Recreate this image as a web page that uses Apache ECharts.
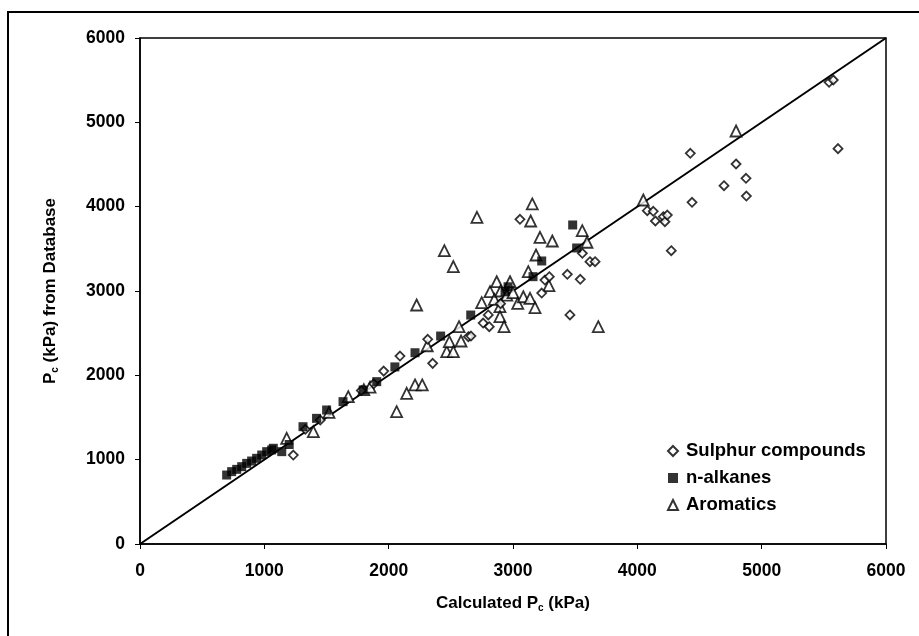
<!DOCTYPE html>
<html><head><meta charset="utf-8">
<script src="https://cdn.jsdelivr.net/npm/echarts@6/dist/echarts.min.js"></script>
<style>html,body{margin:0;padding:0;background:#fff}#c{width:919px;height:636px}</style>
</head><body><div id="c"></div>
<script>
var xTicks = [0, 1000, 2000, 3000, 4000, 5000, 6000];
var yTicks = [0, 1000, 2000, 3000, 4000, 5000, 6000];
var parityLine = [[0, 0], [6000, 6000]];
var sulphur = [
  [1233,1055],[1330,1360],[1450,1470],[1780,1820],[1880,1900],[1960,2050],[2091,2229],
  [2314,2427],[2354,2142],[2641,2458],[2662,2466],[2760,2620],[2801,2716],[2809,2577],
  [2900,2850],[3056,3850],[3231,2976],[3257,3130],[3292,3170],[3437,3198],[3458,2716],
  [3541,3139],[3558,3447],[3619,3348],[3660,3348],[4080,3952],[4128,3945],[4145,3830],
  [4209,3881],[4222,3822],[4241,3901],[4273,3478],[4440,4052],[4426,4633],[4697,4249],
  [4794,4506],[4874,4336],[4877,4126],[5542,5475],[5576,5502],[5614,4688]
];
var alkanes = [
  [697,818],[737,858],[778,885],[818,917],[858,956],[898,984],[938,1016],[979,1055],
  [1019,1095],[1059,1115],[1072,1135],[1140,1095],[1200,1180],[1311,1391],[1420,1490],
  [1501,1589],[1633,1688],[1795,1826],[1904,1925],[2050,2100],[2212,2268],[2418,2466],
  [2660,2715],[2936,2992],[2960,3050],[3161,3170],[3231,3356],[3480,3783],[3512,3510]
];
var aromatics = [
  [1180,1253],[1394,1332],[1520,1560],[1675,1747],[1800,1830],[1850,1860],[2064,1569],
  [2145,1787],[2212,1886],[2270,1886],[2225,2834],[2310,2351],[2448,3478],[2467,2280],
  [2488,2399],[2520,2280],[2520,3289],[2566,2577],[2582,2407],[2710,3874],[2748,2861],
  [2815,2992],[2850,2900],[2869,3110],[2895,2814],[2895,2696],[2900,3000],[2928,2577],
  [2950,2950],[2976,3110],[3000,2980],[3038,2854],[3083,2932],[3123,3229],[3137,2913],
  [3142,3830],[3155,4032],[3177,2802],[3185,3427],[3217,3637],[3289,3063],[3316,3593],
  [3557,3715],[3595,3578],[3686,2577],[4048,4079],[4794,4897]
];
var seriesNames = ['Sulphur compounds', 'n-alkanes', 'Aromatics'];

var FONT = '"Liberation Sans", Arial, sans-serif';
var chart = echarts.init(document.getElementById('c'), null, {renderer: 'canvas'});
var openStyle = {color: '#fff', borderColor: '#000', borderWidth: 1.8};
var plain = function (v) { return String(v); };
var titleRich = {
  a: {fontFamily: FONT, fontWeight: 'bold', fontSize: 17, color: '#000'},
  s: {fontFamily: FONT, fontWeight: 'bold', fontSize: 10, color: '#000', verticalAlign: 'bottom', padding: [9, 0, 0, 0]}
};
chart.setOption({
  animation: false,
  backgroundColor: '#fff',
  graphic: [{type: 'rect', shape: {x: 8, y: 12, width: 960, height: 660},
    style: {fill: 'none', stroke: '#000', lineWidth: 2}, silent: true, z: 100}],
  grid: {left: 140, right: 33, top: 38, bottom: 92, show: true, borderColor: '#000', borderWidth: 1.5},
  legend: {
    orient: 'vertical', left: 662, top: 436, itemGap: 7, itemWidth: 10, itemHeight: 10,
    data: [{name: seriesNames[0], icon: 'diamond'}, {name: seriesNames[1], icon: 'rect'}, {name: seriesNames[2], icon: 'triangle'}],
    textStyle: {fontFamily: FONT, fontWeight: 'bold', fontSize: 18.5, lineHeight: 20, color: '#000', padding: [0, 0, 0, 3]}
  },
  xAxis: {
    type: 'value', min: xTicks[0], max: xTicks[xTicks.length - 1], interval: 1000,
    name: '{a|Calculated P}{s|c}{a| (kPa)}', nameLocation: 'middle', nameGap: 50,
    nameTextStyle: {rich: titleRich},
    axisLine: {lineStyle: {color: '#000', width: 1.5}},
    axisTick: {show: true, inside: false, length: 5, lineStyle: {color: '#000'}},
    axisLabel: {fontFamily: FONT, fontWeight: 'bold', fontSize: 17.5, color: '#000', margin: 18, formatter: plain},
    splitLine: {show: false}
  },
  yAxis: {
    type: 'value', min: yTicks[0], max: yTicks[yTicks.length - 1], interval: 1000,
    name: '{a|P}{s|c}{a| (kPa) from Database}', nameLocation: 'middle', nameGap: 80, nameRotate: 90,
    nameTextStyle: {rich: titleRich},
    axisLine: {lineStyle: {color: '#000', width: 1.5}},
    axisTick: {show: true, inside: false, length: 5, lineStyle: {color: '#000'}},
    axisLabel: {fontFamily: FONT, fontWeight: 'bold', fontSize: 17.5, color: '#000', margin: 15, formatter: plain},
    splitLine: {show: false}
  },
  series: [
    {name: 'line', type: 'line', data: parityLine, symbol: 'none', lineStyle: {color: '#000', width: 2}, z: 1},
    {name: seriesNames[0], type: 'scatter', data: sulphur, symbol: 'diamond', symbolSize: 9, itemStyle: openStyle, z: 3},
    {name: seriesNames[1], type: 'scatter', data: alkanes, symbol: 'rect', symbolSize: 9, itemStyle: {color: '#000'}, z: 4},
    {name: seriesNames[2], type: 'scatter', data: aromatics, symbol: 'triangle', symbolSize: 11, itemStyle: openStyle, z: 2}
  ]
});
</script></body></html>
